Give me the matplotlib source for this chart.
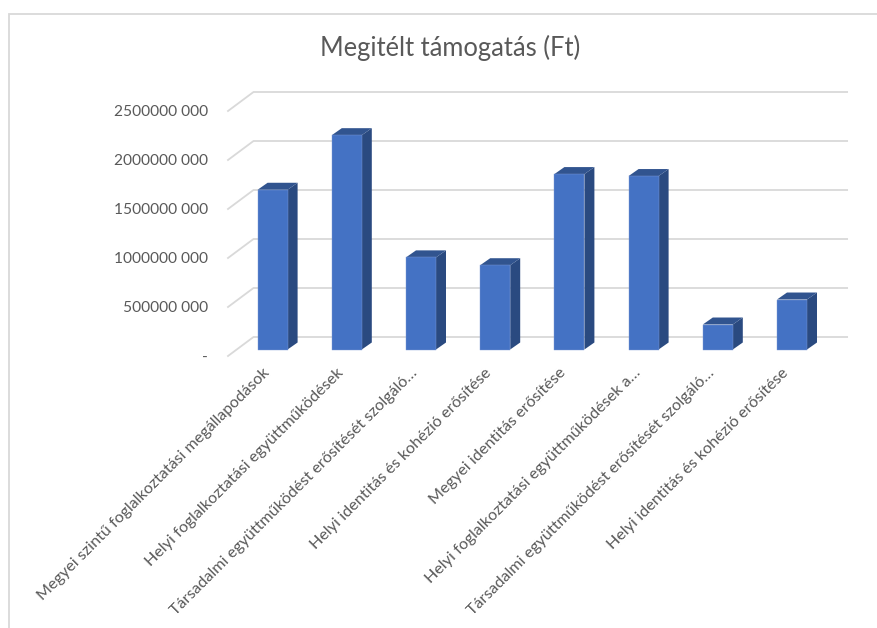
import matplotlib
matplotlib.use("Agg")
import matplotlib.pyplot as plt
from matplotlib.lines import Line2D
from matplotlib.patches import Polygon
from matplotlib.transforms import Affine2D

categories = [
    "Megyei szintű foglalkoztatási megállapodások",
    "Helyi foglalkoztatási együttműködések",
    "Társadalmi együttműködést erősítését szolgáló…",
    "Helyi identitás és kohézió erősítése",
    "Megyei identitás erősítése",
    "Helyi foglalkoztatási együttműködések a…",
    "Társadalmi együttműködést erősítését szolgáló…",
    "Helyi identitás és kohézió erősítése",
]
values = [1630e6, 2187e6, 940e6, 860e6, 1790e6, 1770e6, 255e6, 510e6]
y_ticks = [0, 500e6, 1000e6, 1500e6, 2000e6, 2500e6]
y_labels = ["-", "500000 000", "1000000 000", "1500000 000", "2000000 000", "2500000 000"]
title = "Megitélt támogatás (Ft)"

W, H = 877, 628
BLUE, SIDE, TOP = "#4472c4", "#2a4a80", "#31548f"
GRID, TXT = "#d9d9d9", "#595959"
FONT = "Lato"

fig = plt.figure(figsize=(W / 100, H / 100), dpi=100)
fig.patch.set_facecolor("white")

# chart frame: only the top and left edges fall inside the crop
fig.add_artist(Line2D([9 / W, 9 / W, 1], [0, 1 - 14 / H, 1 - 14 / H], transform=fig.transFigure,
                      color=GRID, lw=1.3, solid_joinstyle="miter"))

band = 74.2
L, B, A_H = 228, 356, 245
ax = fig.add_axes([L / W, 1 - B / H, band * 8 / W, A_H / H])
ax.set_xlim(-0.5, 7.5)
ax.set_ylim(0, 2500e6)
ax.patch.set_alpha(0)
for s in ax.spines.values():
    s.set_visible(False)

px_x = 1 / band               # one pixel in x data units
px_y = 2500e6 / A_H           # one pixel in y data units
back_dx, back_dy = 25.5 * px_x, 19 * px_y     # floor depth
plane_dx, plane_dy = 7.5 * px_x, 6.5 * px_y   # where the columns' front faces stand
depth_dx, depth_dy = 10 * px_x, 7 * px_y      # column depth
bar_w = 30 * px_x

# walls: gridlines with their diagonal on the side wall
for v in y_ticks:
    ax.plot([-0.5, -0.5 + back_dx, 7.5 + back_dx], [v, v + back_dy, v + back_dy],
            color=GRID, lw=1.3, clip_on=False, zorder=1, solid_joinstyle="miter")

# columns
xs = [i + plane_dx for i in range(len(values))]
for x, v in zip(xs, values):
    r = x + bar_w / 2
    l = x - bar_w / 2
    t = v + plane_dy
    ax.add_patch(Polygon([(r, plane_dy), (r + depth_dx, plane_dy + depth_dy),
                          (r + depth_dx, t + depth_dy), (r, t)],
                         closed=True, fc=SIDE, ec="none", clip_on=False, zorder=2))
    ax.add_patch(Polygon([(l, t), (l + depth_dx, t + depth_dy), (r + depth_dx, t + depth_dy), (r, t)],
                         closed=True, fc=TOP, ec="none", clip_on=False, zorder=2))
ax.bar(xs, values, width=bar_w, bottom=plane_dy, color=BLUE, edgecolor="#7f9bd6", linewidth=0.3,
       zorder=3, clip_on=False)

# axis labels
ax.set_yticks(y_ticks)
ax.set_yticklabels(y_labels, fontsize=11.2, color=TXT, family=FONT)
ax.set_xticks(range(len(categories)))
ax.set_xticklabels(categories, fontsize=11.6, color=TXT, family=FONT, rotation=45,
                   ha="right", va="center", rotation_mode="anchor")
ax.tick_params(axis="both", length=0)
ax.tick_params(axis="y", pad=14.4)
ax.tick_params(axis="x", pad=10.5)
for lab in ax.get_xticklabels():
    lab.set_transform(lab.get_transform() + Affine2D().translate(2, 0))

fig.text(450 / W, 1 - 48 / H, title, ha="center", va="center", fontsize=18.4, color=TXT, family=FONT)

fig.savefig("out.png", dpi=100)
